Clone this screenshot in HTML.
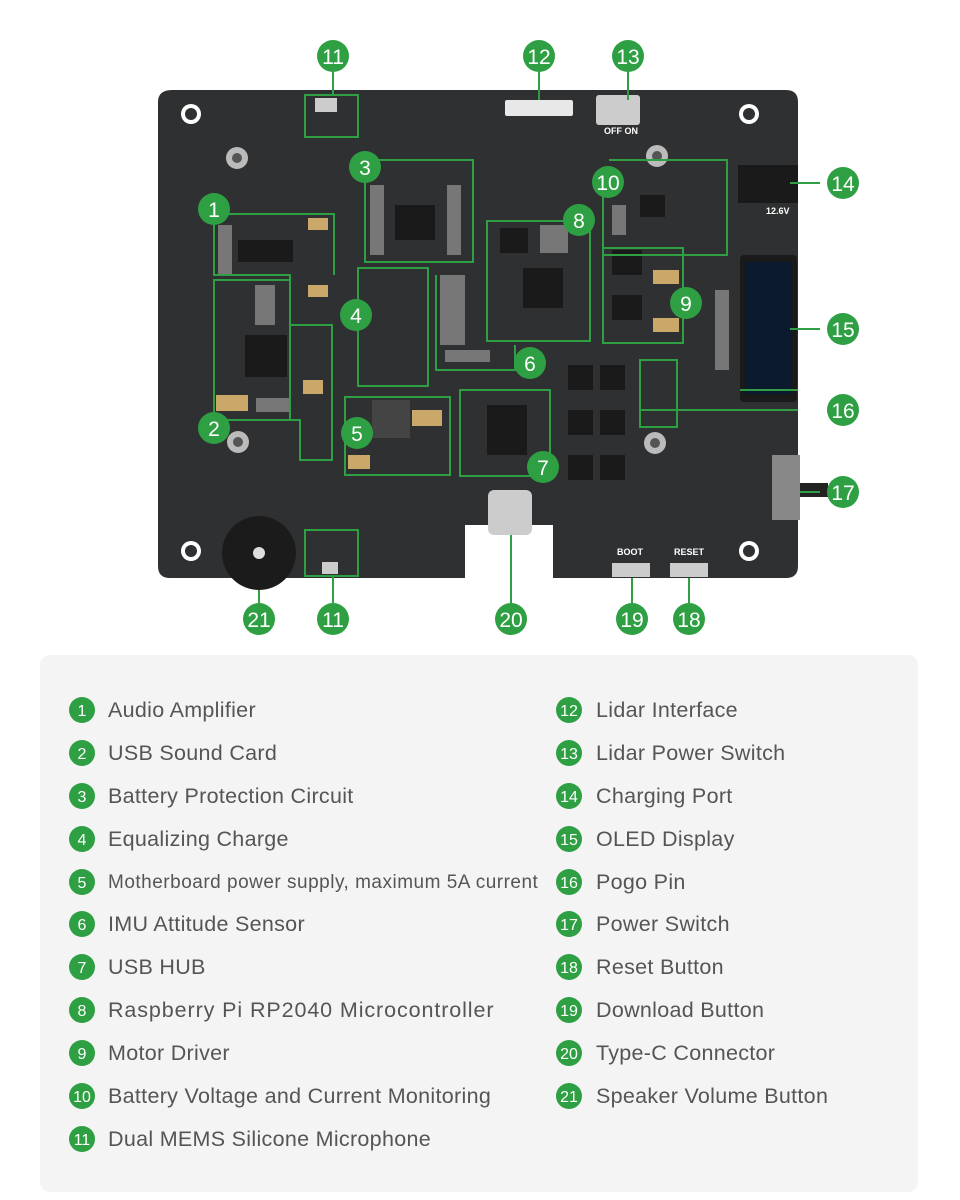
<!DOCTYPE html>
<html><head><meta charset="utf-8"><style>
body{margin:0;background:#fff;width:960px;height:1200px;overflow:hidden;font-family:"Liberation Sans",sans-serif}
</style></head><body>
<svg width="960" height="1200" xmlns="http://www.w3.org/2000/svg" style="position:absolute;left:0;top:0">
<path d="M172 90 H786 Q798 90 798 102 V566 Q798 578 786 578 H553 V525 H465 V578 H170 Q158 578 158 566 V102 Q158 90 172 90 Z" fill="#2f3031"/>
<g fill="#fff"><circle cx="191" cy="114" r="10"/><circle cx="749" cy="114" r="10"/><circle cx="191" cy="551" r="10"/><circle cx="749" cy="551" r="10"/></g>
<g fill="#2f3031"><circle cx="191" cy="114" r="6"/><circle cx="749" cy="114" r="6"/><circle cx="191" cy="551" r="6"/><circle cx="749" cy="551" r="6"/></g>
<g fill="#bbb"><circle cx="237" cy="158" r="11"/><circle cx="657" cy="156" r="11"/><circle cx="238" cy="442" r="11"/><circle cx="655" cy="443" r="11"/></g>
<g fill="#555"><circle cx="237" cy="158" r="5"/><circle cx="657" cy="156" r="5"/><circle cx="238" cy="442" r="5"/><circle cx="655" cy="443" r="5"/></g>
<g fill="#1a1a1a">
<rect x="238" y="240" width="55" height="22"/><rect x="245" y="335" width="42" height="42"/><rect x="395" y="205" width="40" height="35"/><rect x="523" y="268" width="40" height="40"/><rect x="487" y="405" width="40" height="50"/><rect x="738" y="165" width="60" height="38"/><rect x="740" y="255" width="57" height="147" rx="4"/><rect x="612" y="250" width="30" height="25"/><rect x="612" y="295" width="30" height="25"/><rect x="568" y="365" width="25" height="25"/><rect x="600" y="365" width="25" height="25"/><rect x="568" y="410" width="25" height="25"/><rect x="600" y="410" width="25" height="25"/><rect x="568" y="455" width="25" height="25"/><rect x="600" y="455" width="25" height="25"/><rect x="500" y="228" width="28" height="25"/><rect x="640" y="195" width="25" height="22"/>
</g>
<g fill="#777"><rect x="218" y="225" width="14" height="50"/><rect x="370" y="185" width="14" height="70"/><rect x="447" y="185" width="14" height="70"/><rect x="440" y="275" width="25" height="70"/><rect x="255" y="285" width="20" height="40"/><rect x="256" y="398" width="35" height="14"/><rect x="445" y="350" width="45" height="12"/><rect x="715" y="290" width="14" height="80"/><rect x="612" y="205" width="14" height="30"/><rect x="540" y="225" width="28" height="28"/></g>
<g fill="#c9a86a"><rect x="308" y="218" width="20" height="12"/><rect x="308" y="285" width="20" height="12"/><rect x="216" y="395" width="32" height="16"/><rect x="303" y="380" width="20" height="14"/><rect x="412" y="410" width="30" height="16"/><rect x="348" y="455" width="22" height="14"/><rect x="653" y="270" width="26" height="14"/><rect x="653" y="318" width="26" height="14"/></g>
<rect x="745" y="262" width="46" height="132" fill="#0c1a30"/>
<rect x="372" y="400" width="38" height="38" fill="#444"/>
<rect x="596" y="95" width="44" height="30" rx="3" fill="#ccc"/>
<rect x="505" y="100" width="68" height="16" rx="2" fill="#e8e8e8"/>
<rect x="772" y="455" width="28" height="65" fill="#888"/><rect x="800" y="483" width="28" height="14" fill="#222"/>
<rect x="488" y="490" width="44" height="45" rx="6" fill="#ccc"/>
<rect x="612" y="563" width="38" height="14" fill="#ccc"/><rect x="670" y="563" width="38" height="14" fill="#ccc"/>
<circle cx="259" cy="553" r="37" fill="#1b1b1b"/><circle cx="259" cy="553" r="6" fill="#ddd"/>
<rect x="315" y="98" width="22" height="14" fill="#ccc"/><rect x="322" y="562" width="16" height="12" fill="#ccc"/>
<g fill="#fff" font-size="9" font-weight="bold"><text x="617" y="555">BOOT</text><text x="674" y="555">RESET</text><text x="604" y="134">OFF  ON</text><text x="766" y="214">12.6V</text></g>
<g fill="none" stroke="#2ea043" stroke-width="2">
<rect x="305" y="95" width="53" height="42"/><rect x="305" y="530" width="53" height="46"/>
<path d="M214 214 V275 H290 V325 H332 V460 H300 V420 H214"/>
<path d="M214 214 H334 V275"/>
<rect x="214" y="280" width="76" height="140"/>
<rect x="365" y="160" width="108" height="102"/><rect x="358" y="268" width="70" height="118"/>
<rect x="345" y="397" width="105" height="78"/><rect x="460" y="390" width="90" height="86"/>
<rect x="487" y="221" width="103" height="120"/><path d="M436 275 V370 H515 V345"/>
<rect x="603" y="248" width="80" height="95"/><path d="M609 160 H727 V255 H603 V193"/>
<path d="M740 390 H798 M640 410 H798 M640 360 H677 V427 H640 Z M790 329 H820 M790 183 H820 M800 492 H820"/>
</g>
<g fill="#2ea043">
<circle cx="333" cy="56" r="16"/><circle cx="539" cy="56" r="16"/><circle cx="628" cy="56" r="16"/><circle cx="843" cy="183" r="16"/><circle cx="843" cy="329" r="16"/><circle cx="843" cy="410" r="16"/><circle cx="843" cy="492" r="16"/><circle cx="214" cy="209" r="16"/><circle cx="214" cy="428" r="16"/><circle cx="365" cy="167" r="16"/><circle cx="356" cy="315" r="16"/><circle cx="357" cy="433" r="16"/><circle cx="530" cy="363" r="16"/><circle cx="543" cy="467" r="16"/><circle cx="579" cy="220" r="16"/><circle cx="686" cy="303" r="16"/><circle cx="608" cy="182" r="16"/><circle cx="259" cy="619" r="16"/><circle cx="333" cy="619" r="16"/><circle cx="511" cy="619" r="16"/><circle cx="632" cy="619" r="16"/><circle cx="689" cy="619" r="16"/>
</g>
<g stroke="#2ea043" stroke-width="2"><line x1="333" y1="72" x2="333" y2="95"/><line x1="539" y1="72" x2="539" y2="100"/><line x1="628" y1="72" x2="628" y2="100"/><line x1="259" y1="590" x2="259" y2="603"/><line x1="333" y1="576" x2="333" y2="603"/><line x1="511" y1="535" x2="511" y2="603"/><line x1="632" y1="578" x2="632" y2="603"/><line x1="689" y1="578" x2="689" y2="603"/></g>
<g fill="#fff" font-size="21" text-anchor="middle">
<text x="333" y="64">11</text><text x="539" y="64">12</text><text x="628" y="64">13</text><text x="843" y="191">14</text><text x="843" y="337">15</text><text x="843" y="418">16</text><text x="843" y="500">17</text><text x="214" y="217">1</text><text x="214" y="436">2</text><text x="365" y="175">3</text><text x="356" y="323">4</text><text x="357" y="441">5</text><text x="530" y="371">6</text><text x="543" y="475">7</text><text x="579" y="228">8</text><text x="686" y="311">9</text><text x="608" y="190">10</text><text x="259" y="627">21</text><text x="333" y="627">11</text><text x="511" y="627">20</text><text x="632" y="627">19</text><text x="689" y="627">18</text>
</g>
<rect x="40" y="655" width="878" height="537" rx="10" fill="#f4f4f4"/>
<g fill="#2ea043">
<circle cx="82" cy="710" r="13"/><circle cx="82" cy="753" r="13"/><circle cx="82" cy="796" r="13"/><circle cx="82" cy="839" r="13"/><circle cx="82" cy="882" r="13"/><circle cx="82" cy="924" r="13"/><circle cx="82" cy="967" r="13"/><circle cx="82" cy="1010" r="13"/><circle cx="82" cy="1053" r="13"/><circle cx="82" cy="1096" r="13"/><circle cx="82" cy="1139" r="13"/>
<circle cx="569" cy="710" r="13"/><circle cx="569" cy="753" r="13"/><circle cx="569" cy="796" r="13"/><circle cx="569" cy="839" r="13"/><circle cx="569" cy="882" r="13"/><circle cx="569" cy="924" r="13"/><circle cx="569" cy="967" r="13"/><circle cx="569" cy="1010" r="13"/><circle cx="569" cy="1053" r="13"/><circle cx="569" cy="1096" r="13"/>
</g>
<g fill="#fff" font-size="16" text-anchor="middle">
<text x="82" y="716">1</text><text x="82" y="759">2</text><text x="82" y="802">3</text><text x="82" y="845">4</text><text x="82" y="888">5</text><text x="82" y="930">6</text><text x="82" y="973">7</text><text x="82" y="1016">8</text><text x="82" y="1059">9</text><text x="82" y="1102">10</text><text x="82" y="1145">11</text>
<text x="569" y="716">12</text><text x="569" y="759">13</text><text x="569" y="802">14</text><text x="569" y="845">15</text><text x="569" y="888">16</text><text x="569" y="930">17</text><text x="569" y="973">18</text><text x="569" y="1016">19</text><text x="569" y="1059">20</text><text x="569" y="1102">21</text>
</g>
<g fill="#555" font-size="21.5" letter-spacing="0.3">
<text x="108" y="717">Audio Amplifier</text><text x="108" y="760">USB Sound Card</text><text x="108" y="803">Battery Protection Circuit</text><text x="108" y="846">Equalizing Charge</text><text x="108" y="888" font-size="19" letter-spacing="0.5">Motherboard power supply, maximum 5A current</text><text x="108" y="931">IMU Attitude Sensor</text><text x="108" y="974">USB HUB</text><text x="108" y="1017" letter-spacing="0.9">Raspberry Pi RP2040 Microcontroller</text><text x="108" y="1060">Motor Driver</text><text x="108" y="1103">Battery Voltage and Current Monitoring</text><text x="108" y="1146">Dual MEMS Silicone Microphone</text>
<text x="596" y="717">Lidar Interface</text><text x="596" y="760">Lidar Power Switch</text><text x="596" y="803">Charging Port</text><text x="596" y="846">OLED Display</text><text x="596" y="889">Pogo Pin</text><text x="596" y="931">Power Switch</text><text x="596" y="974">Reset Button</text><text x="596" y="1017">Download Button</text><text x="596" y="1060">Type-C Connector</text><text x="596" y="1103">Speaker Volume Button</text>
</g>
</svg>
</body></html>
